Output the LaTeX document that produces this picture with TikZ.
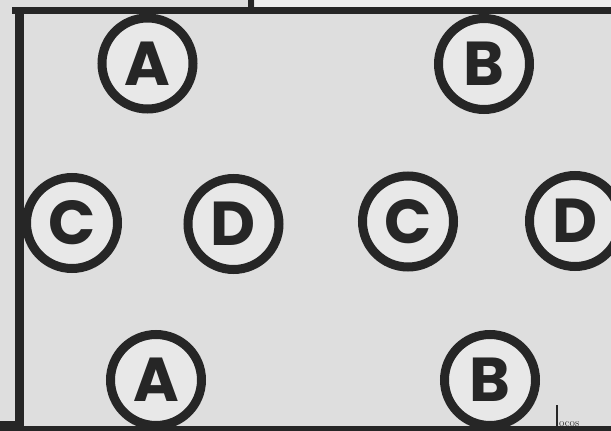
\documentclass[tikz,border=0pt]{standalone}
\usepackage{fontspec}
\newfontfamily\letterfont{Poppins}
\definecolor{ink}{HTML}{262626}
\definecolor{paper}{HTML}{DEDEDE}
\definecolor{paperlight}{HTML}{EEEEEE}
\definecolor{ringfill}{HTML}{E8E8E8}
\tikzset{
  ring/.style={circle, draw=ink, fill=ringfill, line width=9pt, inner sep=0pt,
    minimum size=91pt, text=ink, font=\letterfont\bfseries\fontsize{62}{62}\selectfont},
  frameline/.style={draw=ink, line cap=butt}
}
\begin{document}
\begin{tikzpicture}[x=1pt,y=-1pt]
\useasboundingbox (0,0) rectangle (611,431);
\fill[paper] (0,0) rectangle (611,431);
\fill[paperlight] (255,0) rectangle (611,8);
% frame
\draw[frameline, line width=7pt] (12,10.5) -- (611,10.5);
\draw[frameline, line width=6pt] (251,0) -- (251,12);
\draw[frameline, line width=9pt] (19,7) -- (19,431);
\draw[frameline, line width=5pt] (19,428.5) -- (611,428.5);
\fill[ink] (0,421) rectangle (19,431);
% circles
\node[ring] (a1) at (147.5,63.5) {A};
\node[ring] (b1) at (484,64) {B};
\node[ring] (c1) at (72,223) {C};
\node[ring] (d1) at (233.5,224) {D};
\node[ring] (c2) at (408,221.5) {C};
\node[ring] (d2) at (575,221) {D};
\node[ring] (a2) at (156,380) {A};
\node[ring] (b2) at (490,380) {B};
% small mark bottom right
\draw[ink, line width=2pt] (557,405) -- (557,427);
\node[anchor=base west, inner sep=0pt, text=ink, font=\fontsize{11}{11}\selectfont] (sig) at (559,426) {ocos};
\end{tikzpicture}
\end{document}
